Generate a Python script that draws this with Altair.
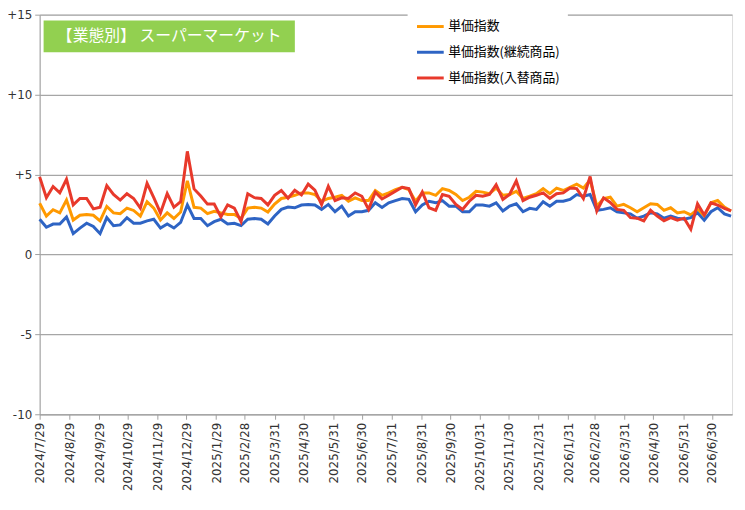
import altair as alt
import pandas as pd

# ---- data ----
start_date = "2024-07-29"
n_weeks = 104

idx_all = [3.2, 2.4, 2.8, 2.6, 3.4, 2.15, 2.45, 2.5, 2.45, 2.1,
           3.0, 2.6, 2.55, 2.9, 2.75, 2.4, 3.3, 2.9, 2.15, 2.6,
           2.25, 2.65, 4.6, 2.95, 2.9, 2.55, 2.7, 2.6, 2.5, 2.5,
           2.25, 2.9, 2.95, 2.9, 2.65, 3.15, 3.5, 3.58, 3.7, 3.85,
           3.85, 3.75, 3.33, 3.5, 3.58, 3.7, 3.33, 3.54, 3.37, 3.37,
           4.0, 3.7, 3.85, 4.05, 4.2, 4.05, 3.33, 3.85, 3.85, 3.7,
           4.12, 4.0, 3.75, 3.37, 3.58, 3.95, 3.9, 3.8, 4.15, 3.7,
           3.75, 3.95, 3.5, 3.64, 3.8, 4.12, 3.8, 4.15, 4.0, 4.2,
           4.4, 4.15, 4.67, 3.02, 3.5, 3.58, 3.02, 3.13, 2.92, 2.67,
           2.92, 3.17, 3.13, 2.76, 2.92, 2.6, 2.67, 2.47, 2.82, 2.4,
           3.23, 3.37, 2.96, 2.72]

idx_cont = [2.2, 1.7, 1.9, 1.9, 2.35, 1.3, 1.65, 1.95, 1.75, 1.3,
            2.3, 1.8, 1.85, 2.3, 1.95, 1.95, 2.1, 2.2, 1.65, 1.9,
            1.65, 2.0, 3.1, 2.25, 2.25, 1.8, 2.05, 2.2, 1.9, 1.95,
            1.8, 2.2, 2.25, 2.2, 1.9, 2.4, 2.82, 2.96, 2.92, 3.09,
            3.13, 3.09, 2.82, 3.13, 2.67, 3.02, 2.4, 2.67, 2.67, 2.76,
            3.23, 2.94, 3.23, 3.37, 3.5, 3.45, 2.67, 3.09, 3.33, 3.23,
            3.37, 3.02, 3.02, 2.67, 2.67, 3.09, 3.09, 3.02, 3.23, 2.72,
            3.02, 3.17, 2.67, 2.88, 2.82, 3.3, 3.02, 3.33, 3.33, 3.44,
            3.75, 3.64, 3.75, 2.76, 2.82, 2.92, 2.67, 2.6, 2.54, 2.27,
            2.4, 2.6, 2.54, 2.27, 2.4, 2.27, 2.2, 2.3, 2.6, 2.14,
            2.67, 2.92, 2.54, 2.4]

idx_repl = [4.85, 3.55, 4.25, 3.85, 4.7, 3.1, 3.5, 3.5, 2.85, 2.95,
            4.3, 3.75, 3.4, 3.8, 3.5, 2.9, 4.45, 3.55, 2.6, 3.8,
            2.95, 3.3, 6.45, 4.1, 3.65, 3.15, 3.15, 2.35, 3.1, 2.9,
            2.05, 3.8, 3.55, 3.5, 3.1, 3.7, 4.0, 3.52, 4.02, 3.72,
            4.4, 4.02, 3.12, 4.26, 3.37, 3.54, 3.5, 3.85, 3.64, 2.82,
            3.9, 3.47, 3.7, 3.95, 4.2, 4.12, 3.09, 3.9, 2.92, 2.76,
            3.75, 3.64, 3.13, 2.82, 3.33, 3.7, 3.64, 3.75, 4.36, 3.44,
            3.75, 4.6, 3.37, 3.58, 3.7, 3.85, 3.5, 3.8, 3.85, 4.15,
            4.12, 3.5, 4.88, 2.72, 3.54, 3.25, 2.82, 2.76, 2.3, 2.27,
            2.1, 2.76, 2.4, 2.1, 2.3, 2.14, 2.27, 1.58, 3.17, 2.47,
            3.23, 3.09, 2.88, 2.72]

series_names = ["単価指数", "単価指数(継続商品)", "単価指数(入替商品)"]
series_colors = ["#FF9900", "#2E64C4", "#E8392B"]

tick_dates = ["2024-07-29", "2024-08-29", "2024-09-29", "2024-10-29",
              "2024-11-29", "2024-12-29", "2025-01-29", "2025-02-28",
              "2025-03-31", "2025-04-30", "2025-05-31", "2025-06-30",
              "2025-07-31", "2025-08-31", "2025-09-30", "2025-10-31",
              "2025-11-30", "2025-12-31", "2026-01-31", "2026-02-28",
              "2026-03-31", "2026-04-30", "2026-05-31", "2026-06-30"]
x_end_date = "2026-07-21"

y_ticks = [-10, -5, 0, 5, 10, 15]
title_text = "【業態別】 スーパーマーケット"


def to_ms(d):
    return int(pd.Timestamp(d, tz="UTC").timestamp() * 1000)


dates = pd.date_range(start_date, periods=n_weeks, freq="7D", tz="UTC")
t_ms = [int(d.timestamp() * 1000) for d in dates]

rows = []
for name, vals in zip(series_names, [idx_all, idx_cont, idx_repl]):
    for t, v in zip(t_ms, vals):
        rows.append({"t": t, "v": v, "series": name})
df = pd.DataFrame(rows)

font_num = "DejaVu Sans"
font_jp = "Noto Sans CJK JP"

lines = alt.Chart(df).mark_line(strokeWidth=3).encode(
    x=alt.X("t:T",
            scale=alt.Scale(type="utc", domain=[to_ms(start_date), to_ms(x_end_date)]),
            axis=alt.Axis(values=[to_ms(d) for d in tick_dates],
                          labelExpr="utcFormat(datum.value, '%Y/%-m/%-d')",
                          labelAngle=-90, grid=False, title=None,
                          domainColor="#A0A0A0", tickColor="#A0A0A0",
                          tickSize=5, labelPadding=3,
                          labelFont=font_num, labelFontSize=12,
                          labelColor="#333333", labelOverlap=False)),
    y=alt.Y("v:Q",
            scale=alt.Scale(domain=[-10, 15], nice=False, zero=False),
            axis=alt.Axis(values=y_ticks,
                          labelExpr="datum.value > 0 ? '+' + datum.value : '' + datum.value",
                          grid=True, gridColor="#A6A6A6", gridWidth=1.3,
                          domainColor="#A0A0A0", tickColor="#A0A0A0",
                          tickSize=5, labelPadding=3, title=None,
                          labelFont=font_num, labelFontSize=12,
                          labelColor="#333333")),
    color=alt.Color("series:N",
                    scale=alt.Scale(domain=series_names, range=series_colors),
                    legend=alt.Legend(orient="none", legendX=372, legendY=-11,
                                      title=None, symbolType="stroke",
                                      symbolStrokeWidth=3, symbolSize=729,
                                      labelFont=font_jp, labelFontSize=13,
                                      labelColor="#000000", labelOffset=3,
                                      fillColor="white", padding=8,
                                      rowPadding=4, labelLimit=300)),
    order=alt.Order("t:Q"),
)

title_df = pd.DataFrame({"label": [title_text]})
box = alt.Chart(title_df).mark_rect(color="#92D050").encode(
    x=alt.value(4), x2=alt.value(258), y=alt.value(6), y2=alt.value(38)
)
label = alt.Chart(title_df).mark_text(
    color="white", fontSize=16, font=font_jp, align="center", baseline="middle"
).encode(x=alt.value(131), y=alt.value(22), text="label:N")

chart = alt.layer(lines, box, label).properties(
    width=700, height=404,
    autosize=alt.AutoSizeParams(type="none"),
    padding={"left": 32, "top": 4, "right": 5, "bottom": 91},
).configure_view(stroke=None).configure(background="white")

chart.save("out.html", embed_options={"renderer": "svg", "actions": False})
